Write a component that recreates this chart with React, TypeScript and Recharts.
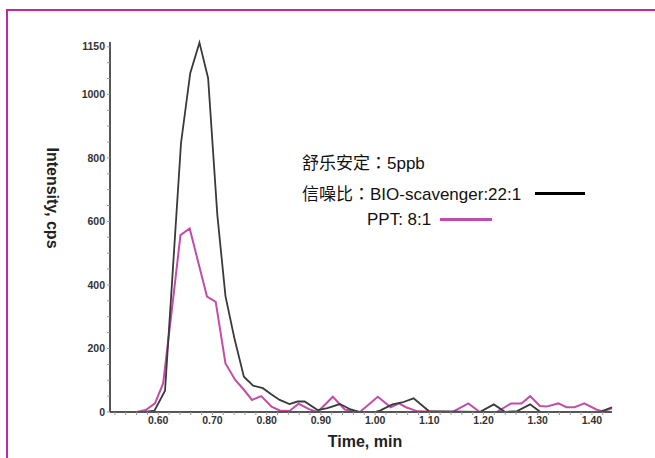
import { Line, LineChart, XAxis, YAxis } from "recharts";

// --- Data ---

const bioTimes = [
  0.511, 0.575, 0.593, 0.6125, 0.642, 0.659, 0.676, 0.692, 0.709, 0.724,
  0.741, 0.758, 0.775, 0.793, 0.809, 0.824, 0.842, 0.857, 0.87, 0.894,
  0.912, 0.935, 0.955, 0.972, 1.0, 1.01, 1.032, 1.05, 1.071, 1.099, 1.193,
  1.219, 1.24, 1.262, 1.286, 1.305, 1.414, 1.437,
];
const bioValues = [
  0, 0, 4, 67, 847, 1067, 1163, 1051, 620, 365, 228, 111, 83, 75, 55, 38,
  25, 33, 33, 6, 12, 25, 8, 0, 0, 5, 24, 30, 43, 3, 0, 24, 0, 3, 24, 0, 0,
  15,
];

const pptTimes = [
  0.511, 0.56, 0.577, 0.594, 0.609, 0.625, 0.641, 0.658, 0.674, 0.69, 0.706,
  0.724, 0.742, 0.758, 0.773, 0.79, 0.809, 0.824, 0.842, 0.859, 0.878,
  0.894, 0.922, 0.944, 0.972, 1.005, 1.029, 1.044, 1.057, 1.078, 1.143,
  1.172, 1.193, 1.224, 1.251, 1.27, 1.286, 1.304, 1.316, 1.338, 1.353,
  1.368, 1.386, 1.408, 1.42, 1.437,
];
const pptValues = [
  0, 0, 6, 27, 90, 320, 557, 578, 470, 363, 347, 153, 101, 70, 38, 50, 17,
  5, 3, 26, 9, 0, 48, 8, 0, 48, 15, 27, 15, 2, 0, 27, 0, 0, 27, 27, 50, 19,
  17, 27, 15, 15, 27, 8, 2, 12,
];

const timeLabels = [0.6, 0.7, 0.8, 0.9, 1.0, 1.1, 1.2, 1.3, 1.4];
const timeMinorTicks = [
  0.52, 0.54, 0.56, 0.58, 0.62, 0.64, 0.66, 0.68, 0.72, 0.74, 0.76, 0.78,
  0.82, 0.84, 0.86, 0.88, 0.92, 0.94, 0.96, 0.98, 1.02, 1.04, 1.06, 1.08,
  1.12, 1.14, 1.16, 1.18, 1.22, 1.24, 1.26, 1.28, 1.32, 1.34, 1.36, 1.38,
  1.42,
];
const intensityLabels = [0, 200, 400, 600, 800, 1000, 1150];
const intensityMinorTicks = [
  50, 100, 150, 250, 300, 350, 450, 500, 550, 650, 700, 750, 850, 900, 950,
  1050, 1100,
];

const bioData = bioTimes.map((t, i) => ({ t, v: bioValues[i] }));
const pptData = pptTimes.map((t, i) => ({ t, v: pptValues[i] }));

const BLACK = "#3a3a3a";
const MAGENTA = "#c24da8";
const FRAME = "#c02a9c";
const LATIN = '"Liberation Sans", Arial, "Noto Sans CJK SC", sans-serif';

const xTicks = [...timeLabels, ...timeMinorTicks].sort((a, b) => a - b);
const yTicks = [...intensityLabels, ...intensityMinorTicks].sort(
  (a, b) => a - b,
);

const fmtTime = (v: number) =>
  timeLabels.some((l) => Math.abs(l - v) < 1e-6) ? v.toFixed(2) : "";
const fmtIntensity = (v: number) =>
  intensityLabels.includes(v) ? String(v) : "";

const tickStyle = {
  fill: "#333",
  fontSize: 10.5,
  fontWeight: 700,
  fontFamily: LATIN,
};

// centred full-width colon, as in the original figure
const Colon = () => (
  <span style={{ fontFamily: '"Noto Sans CJK TC"' }}>：</span>
);

const noteStyle = {
  position: "absolute" as const,
  fontSize: 17,
  lineHeight: "20px",
  color: "#111",
  whiteSpace: "nowrap" as const,
};

export default function App() {
  return (
    <div
      style={{
        position: "absolute",
        left: 0,
        top: 0,
        width: 655,
        height: 458,
        overflow: "hidden",
        background: "#fff",
        fontFamily: LATIN,
      }}
    >
      {/* magenta frame: only its top and left edges are in view */}
      <div
        style={{
          position: "absolute",
          left: 6,
          top: 9,
          width: 649,
          height: 2,
          background: FRAME,
        }}
      />
      <div
        style={{
          position: "absolute",
          left: 6,
          top: 9,
          width: 2,
          height: 449,
          background: FRAME,
        }}
      />

      <div style={{ position: "absolute", left: 0, top: 0 }}>
        <LineChart
          width={655}
          height={458}
          margin={{ top: 42, right: 43, bottom: 16, left: 50 }}
        >
          <XAxis
            type="number"
            dataKey="t"
            domain={[0.511, 1.437]}
            ticks={xTicks}
            interval={0}
            tickFormatter={fmtTime}
            tick={tickStyle}
            tickSize={3}
            tickMargin={2}
            height={30}
            axisLine={{ stroke: "#555", strokeWidth: 2 }}
            tickLine={{ stroke: "#999", strokeWidth: 1 }}
            allowDuplicatedCategory={false}
          />
          <YAxis
            type="number"
            dataKey="v"
            domain={[0, 1165]}
            ticks={yTicks}
            interval={0}
            tickFormatter={fmtIntensity}
            tick={tickStyle}
            tickSize={3}
            tickMargin={2}
            width={60}
            axisLine={{ stroke: "#555", strokeWidth: 2 }}
            tickLine={{ stroke: "#999", strokeWidth: 1 }}
          />
          <Line
            data={pptData}
            dataKey="v"
            type="linear"
            stroke={MAGENTA}
            strokeWidth={2}
            dot={false}
            isAnimationActive={false}
          />
          <Line
            data={bioData}
            dataKey="v"
            type="linear"
            stroke={BLACK}
            strokeWidth={1.8}
            dot={false}
            isAnimationActive={false}
          />
        </LineChart>
      </div>

      {/* axis titles */}
      <div
        style={{
          position: "absolute",
          left: 52,
          top: 198,
          transform: "translate(-50%, -50%) rotate(90deg)",
          whiteSpace: "nowrap",
          fontSize: 16,
          fontWeight: 700,
          color: "#222",
        }}
      >
        Intensity, cps
      </div>
      <div
        style={{
          position: "absolute",
          left: 365,
          top: 442,
          transform: "translate(-50%, -50%)",
          whiteSpace: "nowrap",
          fontSize: 16,
          fontWeight: 700,
          color: "#222",
        }}
      >
        Time, min
      </div>

      {/* annotation block */}
      <div style={{ ...noteStyle, left: 302, top: 152 }}>
        舒乐安定
        <Colon />
        5ppb
      </div>
      <div style={{ ...noteStyle, left: 302, top: 183 }}>
        信噪比
        <Colon />
        BIO-scavenger:22:1
      </div>
      <div
        style={{
          position: "absolute",
          left: 535,
          top: 192,
          width: 50,
          height: 3,
          background: "#000",
        }}
      />
      <div style={{ ...noteStyle, left: 367, top: 210 }}>PPT: 8:1</div>
      <div
        style={{
          position: "absolute",
          left: 440,
          top: 218,
          width: 52,
          height: 3,
          background: MAGENTA,
        }}
      />
    </div>
  );
}
